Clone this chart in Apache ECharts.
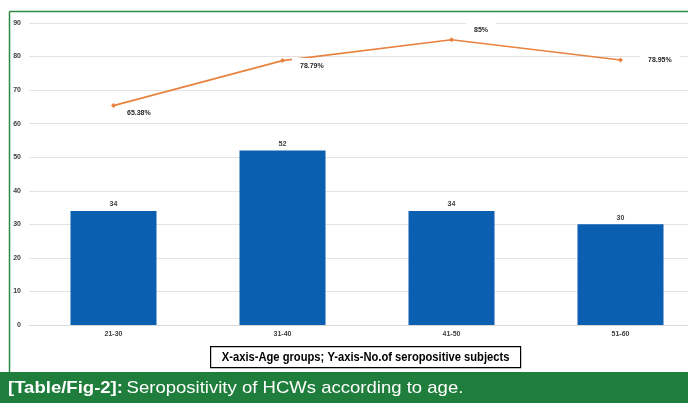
<!DOCTYPE html>
<html>
<head>
<meta charset="utf-8">
<script src="https://cdn.jsdelivr.net/npm/echarts@6/dist/echarts.min.js"></script>
<style>
  html, body { margin: 0; padding: 0; background: #fff; }
  #chart { width: 688px; height: 403px; }
</style>
</head>
<body>
<div id="chart"></div>
<script>
// Age groups and counts of seropositive health-care workers
const ageGroups = ['21-30', '31-40', '41-50', '51-60'];
const seropositiveCounts = [34, 52, 34, 30];
const seropositivityPct = [65.38, 78.79, 85, 78.95];
const pctLabelOffsets = [[-9, 7], [-5, 5], [0, -10], [5, 0]];

const chart = echarts.init(document.getElementById('chart'));

const lineData = seropositivityPct.map((v, i) => ({
  value: v,
  label: { offset: pctLabelOffsets[i] }
}));

chart.setOption({
  animation: false,
  backgroundColor: '#ffffff',
  // plot runs past the right edge of the canvas
  grid: { left: 29, width: 676, top: 23, bottom: 78, outerBoundsMode: 'none', containLabel: false },
  xAxis: {
    type: 'category',
    data: ageGroups,
    axisLine: { show: true, lineStyle: { color: '#d9d9d9', width: 1 } },
    axisTick: { show: false },
    axisLabel: { color: '#404040', fontSize: 7, fontFamily: 'Liberation Sans', fontWeight: 'bold', margin: 6 }
  },
  yAxis: {
    type: 'value',
    min: 0, max: 90, interval: 10,
    axisLine: { show: false },
    axisTick: { show: false },
    axisLabel: { color: '#404040', fontSize: 7, fontFamily: 'Liberation Sans', fontWeight: 'bold', margin: 8 },
    splitLine: { lineStyle: { color: '#e3e3e3', width: 1 } }
  },
  series: [
    {
      type: 'bar',
      data: seropositiveCounts,
      barWidth: 86,
      itemStyle: { color: '#0b5fb1' },
      label: {
        show: true, position: 'top', distance: 3,
        color: '#404040', fontSize: 7, fontFamily: 'Liberation Sans', fontWeight: 'bold'
      },
      z: 2
    },
    {
      type: 'line',
      data: lineData,
      symbol: 'diamond',
      symbolSize: 5,
      lineStyle: { color: '#e8823f', width: 1.6 },
      itemStyle: { color: '#e8823f' },
      label: {
        show: true, position: 'right', distance: 12,
        formatter: p => p.value + '%',
        color: '#262626', fontSize: 7, fontFamily: 'Liberation Sans', fontWeight: 'bold',
        backgroundColor: '#ffffff', padding: [4, 8]
      },
      z: 3
    }
  ],
  graphic: [
    // green frame lines
    { type: 'line', shape: { x1: 9.5, y1: 11.5, x2: 688, y2: 11.5 }, style: { stroke: '#2f8a41', lineWidth: 1.5 }, z: 10 },
    { type: 'line', shape: { x1: 9.5, y1: 11.5, x2: 9.5, y2: 372 }, style: { stroke: '#2f8a41', lineWidth: 1.5 }, z: 10 },
    // axis description box
    {
      type: 'group', left: 210, top: 346, z: 10,
      children: [
        { type: 'rect', shape: { x: 0, y: 0, width: 310, height: 21 }, style: { fill: '#fff', stroke: '#000', lineWidth: 1.2 } },
        { type: 'text', x: 155, y: 11, scaleX: 0.86,
          style: { x: 0, y: 0, text: 'X-axis-Age groups; Y-axis-No.of seropositive subjects',
          textAlign: 'center', textVerticalAlign: 'middle', fill: '#000',
          font: 'bold 13px "Liberation Sans", Arial, sans-serif' } }
      ]
    },
    // caption band
    { type: 'rect', shape: { x: 0, y: 372, width: 688, height: 31 }, style: { fill: '#1f7e3b' }, z: 10 },
    {
      type: 'text', x: 8, y: 388, scaleX: 1.09, z: 11,
      style: {
        x: 0, y: 0, textVerticalAlign: 'middle',
        text: '{b|[Table/Fig-2]:} {r|Seropositivity of HCWs according to age.}',
        rich: {
          b: { fill: '#fff', font: 'bold 17px "Liberation Sans", Arial, sans-serif' },
          r: { fill: '#fff', font: '17px "Liberation Sans", Arial, sans-serif' }
        }
      }
    }
  ]
});
</script>
</body>
</html>
